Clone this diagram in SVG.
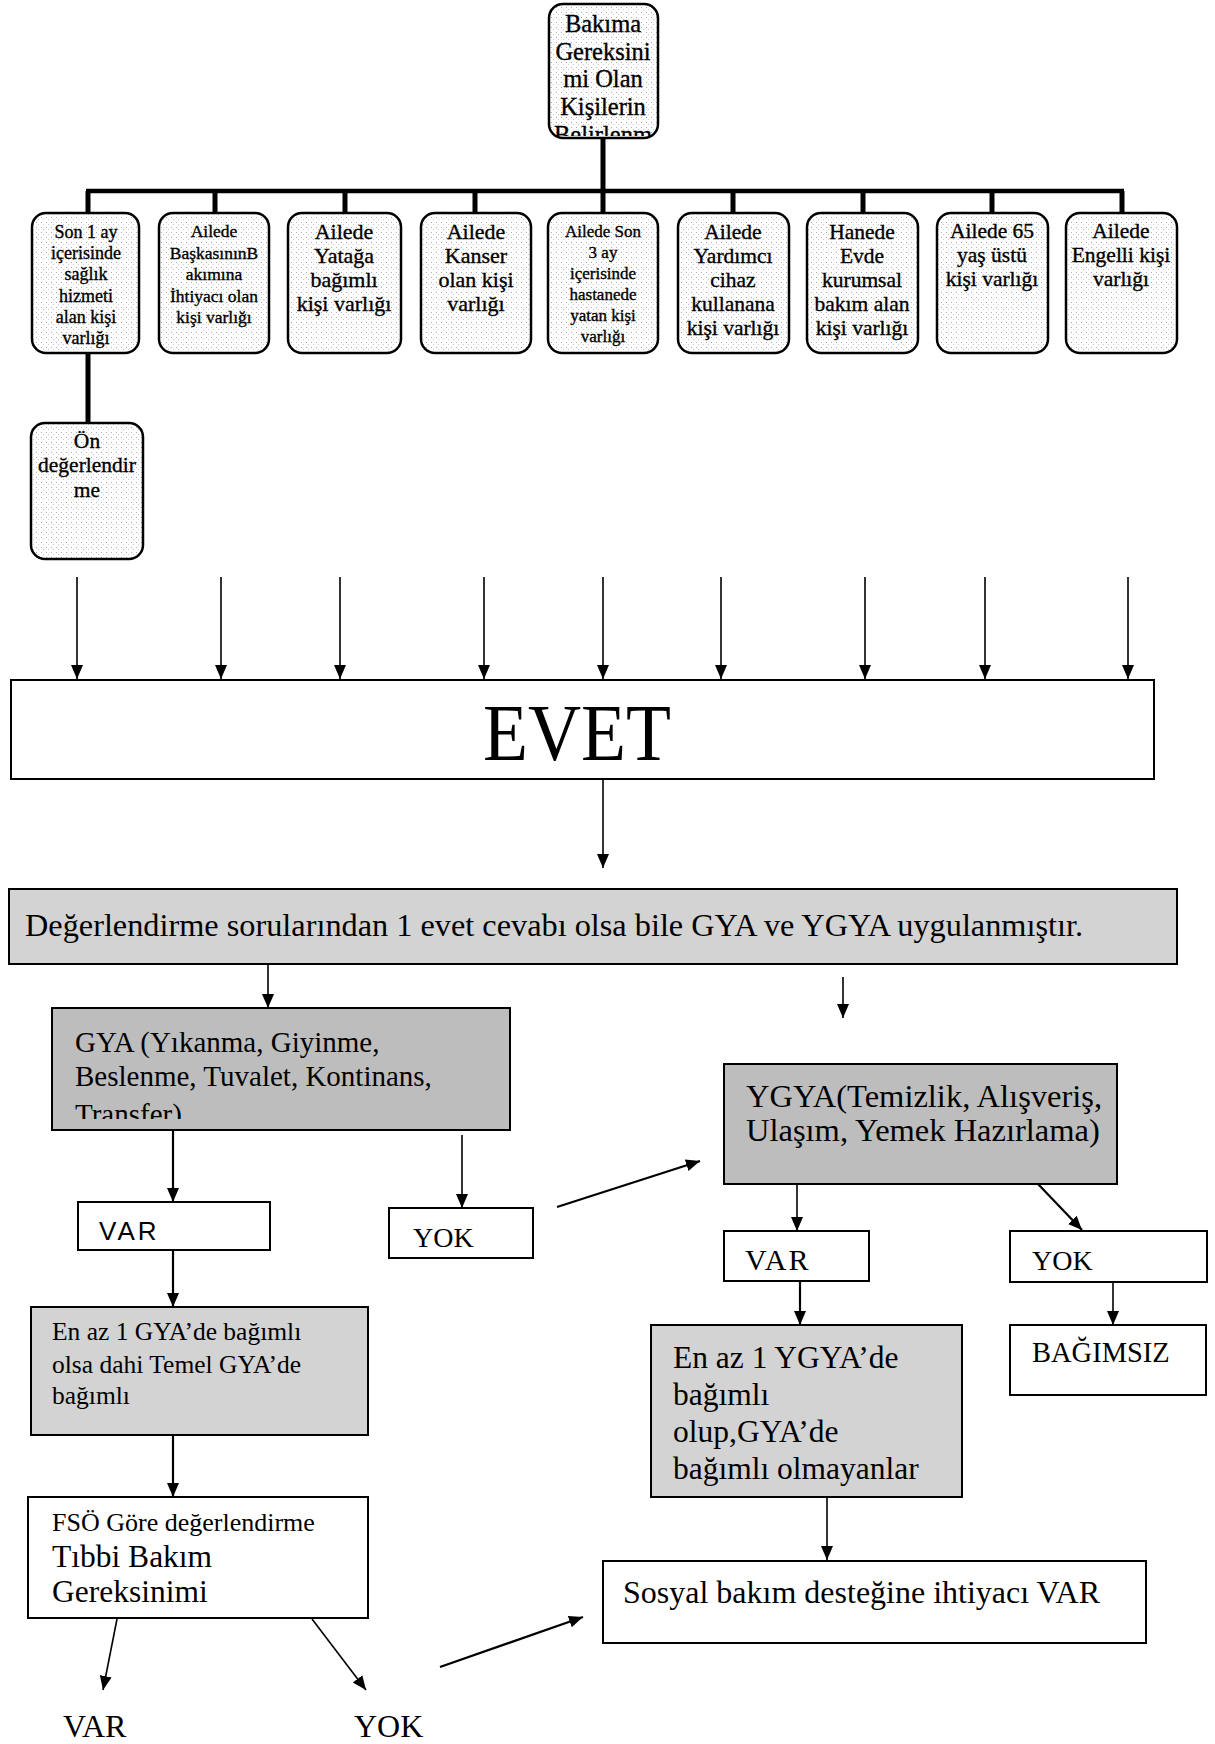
<svg xmlns="http://www.w3.org/2000/svg" width="1215" height="1744" viewBox="0 0 1215 1744">
<defs>
<style>
.t{font-family:"Liberation Serif","Times New Roman",serif;fill:#000}
.s{font-family:"Liberation Sans",Arial,sans-serif;fill:#000}
.h{stroke:#000;stroke-width:0.35}
.rb{fill:url(#dots);stroke:#000;stroke-width:2.5}
.bx{fill:#fff;stroke:#000;stroke-width:2}
.g1{fill:#bdbdbd;stroke:#000;stroke-width:2}
.g2{fill:#d3d3d3;stroke:#000;stroke-width:2}
.thick{stroke:#000;stroke-width:5;fill:none}
.ar{stroke:#000;stroke-width:1.6;fill:none;marker-end:url(#ah)}
.ar2{stroke:#000;stroke-width:2.2;fill:none;marker-end:url(#ah)}
</style>
<pattern id="dots" width="5" height="5" patternUnits="userSpaceOnUse">
<rect width="5" height="5" fill="#fff"/>
<rect x="1" y="2" width="1" height="1" fill="#aaa"/>
<rect x="3" y="4" width="1" height="1" fill="#ccc"/>
</pattern>
<marker id="ah" markerWidth="14" markerHeight="16" refX="14" refY="6" orient="auto" markerUnits="userSpaceOnUse" viewBox="0 0 14 12">
<path d="M0,0 L14,6 L0,12 Z" fill="#000"/>
</marker>
<clipPath id="cTop"><rect x="549" y="4" width="109" height="132"/></clipPath>
<clipPath id="cGya"><rect x="52" y="1008" width="458" height="111"/></clipPath>
</defs>

<g id="connectors">
<line class="thick" x1="603" y1="136" x2="603" y2="191"/>
<line x1="86" y1="191" x2="1124" y2="191" stroke="#000" stroke-width="4.5"/>
<line class="thick" x1="88" y1="191" x2="88" y2="214"/>
<line class="thick" x1="215" y1="191" x2="215" y2="214"/>
<line class="thick" x1="345" y1="191" x2="345" y2="214"/>
<line class="thick" x1="475" y1="191" x2="475" y2="214"/>
<line class="thick" x1="603" y1="191" x2="603" y2="214"/>
<line class="thick" x1="733" y1="191" x2="733" y2="214"/>
<line class="thick" x1="863" y1="191" x2="863" y2="214"/>
<line class="thick" x1="992" y1="191" x2="992" y2="214"/>
<line class="thick" x1="1122" y1="191" x2="1122" y2="214"/>
<line class="thick" x1="88" y1="352" x2="88" y2="424"/>
<line class="ar" x1="77" y1="577" x2="77" y2="679"/>
<line class="ar" x1="221" y1="577" x2="221" y2="679"/>
<line class="ar" x1="340" y1="577" x2="340" y2="679"/>
<line class="ar" x1="484" y1="577" x2="484" y2="679"/>
<line class="ar" x1="603" y1="577" x2="603" y2="679"/>
<line class="ar" x1="721" y1="577" x2="721" y2="679"/>
<line class="ar" x1="865" y1="577" x2="865" y2="679"/>
<line class="ar" x1="985" y1="577" x2="985" y2="679"/>
<line class="ar" x1="1128" y1="577" x2="1128" y2="679"/>
<line class="ar" x1="603" y1="770" x2="603" y2="868"/>
<line class="ar" x1="268" y1="964" x2="268" y2="1008"/>
<line class="ar" x1="843" y1="977" x2="843" y2="1018"/>
<line class="ar2" x1="173" y1="1130" x2="173" y2="1202"/>
<line class="ar" x1="462" y1="1135" x2="462" y2="1208"/>
<line class="ar2" x1="557" y1="1207" x2="700" y2="1161"/>
<line class="ar" x1="797" y1="1184" x2="797" y2="1231"/>
<line class="ar2" x1="1038" y1="1184" x2="1082" y2="1230"/>
<line class="ar2" x1="173" y1="1250" x2="173" y2="1307"/>
<line class="ar2" x1="800" y1="1281" x2="800" y2="1325"/>
<line class="ar" x1="1113" y1="1282" x2="1113" y2="1325"/>
<line class="ar2" x1="173" y1="1435" x2="173" y2="1497"/>
<line class="ar" x1="827" y1="1497" x2="827" y2="1560"/>
<line class="ar" x1="117" y1="1619" x2="103" y2="1690"/>
<line class="ar" x1="312" y1="1619" x2="366" y2="1690"/>
<line class="ar2" x1="440" y1="1667" x2="583" y2="1617"/>
</g>

<g id="n-top">
<rect class="rb" x="549" y="4" width="109" height="134" rx="14"/>
<g class="t h" font-size="24.5" text-anchor="middle" clip-path="url(#cTop)">
<text x="603" y="32">Bakıma</text>
<text x="603" y="60">Gereksini</text>
<text x="603" y="87">mi  Olan</text>
<text x="603" y="115">Kişilerin</text>
<text x="603" y="143">Belirlenm</text>
</g>
</g>

<g id="n-b1">
<rect class="rb" x="32" y="213" width="107" height="140" rx="14"/>
<g class="t h" font-size="18" text-anchor="middle">
<text x="86" y="238">Son 1 ay</text>
<text x="86" y="259">içerisinde</text>
<text x="86" y="280">sağlık</text>
<text x="86" y="302">hizmeti</text>
<text x="86" y="323">alan  kişi</text>
<text x="86" y="344">varlığı</text>
</g>
</g>

<g id="n-b2">
<rect class="rb" x="159" y="213" width="110" height="140" rx="14"/>
<g class="t h" font-size="17.5" text-anchor="middle">
<text x="214" y="237">Ailede</text>
<text x="214" y="259">BaşkasınınB</text>
<text x="214" y="280">akımına</text>
<text x="214" y="302">İhtiyacı olan</text>
<text x="214" y="323">kişi varlığı</text>
</g>
</g>

<g id="n-b3">
<rect class="rb" x="288" y="213" width="113" height="140" rx="14"/>
<g class="t h" font-size="22" text-anchor="middle">
<text x="344" y="239">Ailede</text>
<text x="344" y="263">Yatağa</text>
<text x="344" y="287">bağımlı</text>
<text x="344" y="311">kişi varlığı</text>
</g>
</g>

<g id="n-b4">
<rect class="rb" x="421" y="213" width="110" height="140" rx="14"/>
<g class="t h" font-size="22" text-anchor="middle">
<text x="476" y="239">Ailede</text>
<text x="476" y="263">Kanser</text>
<text x="476" y="287">olan kişi</text>
<text x="476" y="311">varlığı</text>
</g>
</g>

<g id="n-b5">
<rect class="rb" x="548" y="213" width="110" height="140" rx="14"/>
<g class="t h" font-size="17" text-anchor="middle">
<text x="603" y="237">Ailede Son</text>
<text x="603" y="258">3 ay</text>
<text x="603" y="279">içerisinde</text>
<text x="603" y="300">hastanede</text>
<text x="603" y="321">yatan kişi</text>
<text x="603" y="342">varlığı</text>
</g>
</g>

<g id="n-b6">
<rect class="rb" x="678" y="213" width="111" height="140" rx="14"/>
<g class="t h" font-size="21.5" text-anchor="middle">
<text x="733" y="239">Ailede</text>
<text x="733" y="263">Yardımcı</text>
<text x="733" y="287">cihaz</text>
<text x="733" y="311">kullanana</text>
<text x="733" y="335">kişi varlığı</text>
</g>
</g>

<g id="n-b7">
<rect class="rb" x="807" y="213" width="111" height="140" rx="14"/>
<g class="t h" font-size="21.5" text-anchor="middle">
<text x="862" y="239">Hanede</text>
<text x="862" y="263">Evde</text>
<text x="862" y="287">kurumsal</text>
<text x="862" y="311">bakım alan</text>
<text x="862" y="335">kişi varlığı</text>
</g>
</g>

<g id="n-b8">
<rect class="rb" x="937" y="213" width="111" height="140" rx="14"/>
<g class="t h" font-size="21.5" text-anchor="middle">
<text x="992" y="238">Ailede 65</text>
<text x="992" y="262">yaş üstü</text>
<text x="992" y="286">kişi varlığı</text>
</g>
</g>

<g id="n-b9">
<rect class="rb" x="1066" y="213" width="111" height="140" rx="14"/>
<g class="t h" font-size="21.5" text-anchor="middle">
<text x="1121" y="238">Ailede</text>
<text x="1121" y="262">Engelli kişi</text>
<text x="1121" y="286">varlığı</text>
</g>
</g>

<g id="n-on">
<rect class="rb" x="31" y="423" width="112" height="136" rx="14"/>
<g class="t h" font-size="21.5" text-anchor="middle">
<text x="87" y="448">Ön</text>
<text x="87" y="472">değerlendir</text>
<text x="87" y="497">me</text>
</g>
</g>

<g id="n-evet">
<rect class="bx" x="11" y="680" width="1143" height="99"/>
<text class="t" x="577" y="760" font-size="80" text-anchor="middle" textLength="188" lengthAdjust="spacingAndGlyphs">EVET</text>
</g>

<g id="n-deg">
<rect class="g2" x="9" y="889" width="1168" height="75"/>
<text class="t" x="25" y="936" font-size="32" textLength="1058" lengthAdjust="spacingAndGlyphs">Değerlendirme sorularından 1 evet cevabı olsa bile GYA ve YGYA uygulanmıştır.</text>
</g>

<g id="n-gya">
<rect class="g1" x="52" y="1008" width="458" height="122"/>
<g class="t" font-size="29" clip-path="url(#cGya)">
<text x="75" y="1052">GYA (Yıkanma, Giyinme,</text>
<text x="75" y="1086">Beslenme, Tuvalet, Kontinans,</text>
<text x="75" y="1124">Transfer)</text>
</g>
</g>

<g id="n-var1">
<rect class="bx" x="78" y="1202" width="192" height="48"/>
<text class="s" x="99" y="1240" font-size="26" letter-spacing="3">VAR</text>
</g>

<g id="n-yok1">
<rect class="bx" x="389" y="1208" width="144" height="50"/>
<text class="t" x="413" y="1247" font-size="28">YOK</text>
</g>

<g id="n-ygya">
<rect class="g1" x="724" y="1064" width="393" height="120"/>
<g class="t" font-size="32.5">
<text x="746" y="1107">YGYA(Temizlik, Alışveriş,</text>
<text x="746" y="1141">Ulaşım, Yemek Hazırlama)</text>
</g>
</g>

<g id="n-var2">
<rect class="bx" x="724" y="1231" width="145" height="50"/>
<text class="t" x="745" y="1270" font-size="30" letter-spacing="2">VAR</text>
</g>

<g id="n-yok2">
<rect class="bx" x="1010" y="1231" width="197" height="51"/>
<text class="t" x="1032" y="1270" font-size="28">YOK</text>
</g>

<g id="n-enaz1">
<rect class="g2" x="31" y="1307" width="337" height="128"/>
<g class="t" font-size="25.5">
<text x="52" y="1340">En az 1 GYA’de bağımlı</text>
<text x="52" y="1373">olsa dahi  Temel GYA’de</text>
<text x="52" y="1404">bağımlı</text>
</g>
</g>

<g id="n-enaz2">
<rect class="g2" x="651" y="1325" width="311" height="172"/>
<g class="t" font-size="31.5">
<text x="673" y="1368">En az 1 YGYA’de</text>
<text x="673" y="1405">bağımlı</text>
<text x="673" y="1442">olup,GYA’de</text>
<text x="673" y="1479">bağımlı olmayanlar</text>
</g>
</g>

<g id="n-bagimsiz">
<rect class="bx" x="1010" y="1325" width="196" height="70"/>
<text class="t" x="1032" y="1362" font-size="28.5">BAĞIMSIZ</text>
</g>

<g id="n-fso">
<rect class="bx" x="28" y="1497" width="340" height="121"/>
<g class="t">
<text x="52" y="1531" font-size="26">FSÖ Göre değerlendirme</text>
<text x="52" y="1567" font-size="31.5">Tıbbi Bakım</text>
<text x="52" y="1602" font-size="31.5">Gereksinimi</text>
</g>
</g>

<g id="n-sosyal">
<rect class="bx" x="603" y="1561" width="543" height="82"/>
<text class="t" x="623" y="1603" font-size="32">Sosyal bakım desteğine ihtiyacı VAR</text>
</g>

<g id="n-var3">
<text class="t" x="63" y="1737" font-size="32">VAR</text>
</g>
<g id="n-yok3">
<text class="t" x="354" y="1737" font-size="32">YOK</text>
</g>
</svg>
